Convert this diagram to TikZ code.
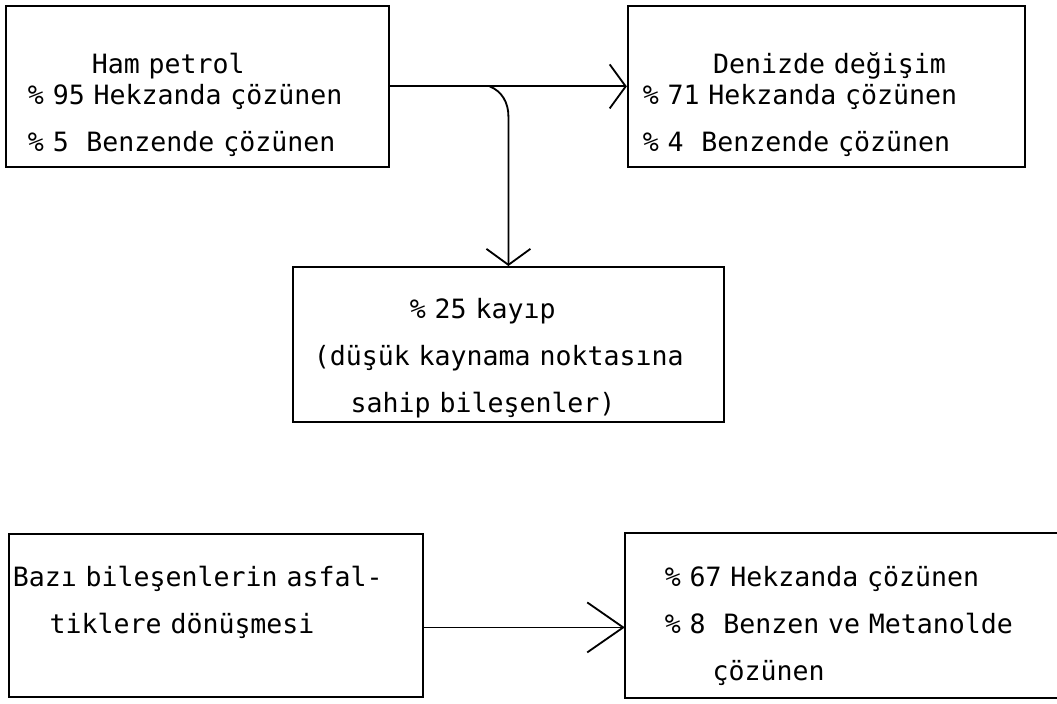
\documentclass[tikz,border=0pt]{standalone}
\usepackage{fontspec}
\usetikzlibrary{positioning, arrows.meta}
\newfontfamily\daktilo{DejaVu Sans Mono}
\newcommand{\yazi}{\daktilo\fontsize{18.9pt}{33.43pt}\selectfont
    \fontdimen2\font=0.602em \fontdimen3\font=0pt \fontdimen4\font=0pt}
\newcommand{\bosluk}[1]{\hspace*{#1\dimexpr 0.602em\relax}}
\newcommand{\ustboy}[1]{\rule{0pt}{#1}}
\newcommand{\altboy}[1]{\rule[-#1]{0pt}{#1}}

\begin{document}
\begin{tikzpicture}[>={Straight Barb[length=0.4cm,width=1.1cm]},line width=1.3pt,
        kutu/.style={draw, rectangle, inner ysep=0pt, align=left, font=\yazi}]
                \useasboundingbox (0,0) rectangle (26.425,17.575);
                \node[kutu, anchor=north west, inner xsep=0.55cm, text width=8.475cm] (ham) at (0.125,17.45)
                    {\ustboy{1.7cm}\bosluk{4}Ham petrol\\[-0.4cm]
                     \% 95 Hekzanda çözünen\\
                     \% 5\ \ Benzende çözünen\altboy{0.375cm}};
                \node[kutu, inner xsep=0.375cm, text width=9.175cm] (deniz) [right=5.925cm of ham]
                    {\ustboy{1.7cm}\bosluk{4.4}Denizde değişim\\[-0.4cm]
                     \% 71 Hekzanda çözünen\\
                     \% 4\ \ Benzende çözünen\altboy{0.375cm}};
                \node[kutu, anchor=north west, inner xsep=0.525cm, text width=9.725cm] (kayip) at (7.3,10.925)
                    {\ustboy{1.3cm}\bosluk{6}\% 25 kayıp\\
                     (düşük kaynama noktasına\\
                     \bosluk{2.3}sahip bileşenler)\altboy{0.225cm}};
                \node[kutu, anchor=north west, inner xsep=0.1cm, text width=10.15cm] (asfalt) at (0.2,4.25)
                    {\ustboy{1.325cm}Bazı bileşenlerin asfal-\\
                     \bosluk{2.3}tiklere dönüşmesi\altboy{1.575cm}};
                \node[kutu, draw=none, inner xsep=0.975cm, text width=10.5cm] (sonuc) [right=5.025cm of asfalt]
                    {\ustboy{1.325cm}\% 67 Hekzanda çözünen\\
                     \% 8\ \ Benzen ve Metanolde\\
                     \bosluk{3}çözünen\altboy{0.4cm}};
                % right side of the last box is cut off
                \draw (sonuc.north east) -- (sonuc.north west) -- (sonuc.south west) -- (sonuc.south east);

                \coordinate (dal) at ([xshift=2.5cm]ham.east);
                \coordinate (donus) at (kayip.north |- dal);
                \path
                (ham) edge[->] (deniz)
                ;
                \draw[->] (dal) .. controls +(0.3,-0.125) and +(0,0.35) .. ([yshift=-0.75cm]donus) -- (kayip.north);
                \draw[-{Straight Barb[length=0.9cm,width=1.25cm]}] ([yshift=-0.3cm]asfalt.east) -- ([yshift=-0.3cm]asfalt.east -| sonuc.west);
            \end{tikzpicture}
\end{document}
